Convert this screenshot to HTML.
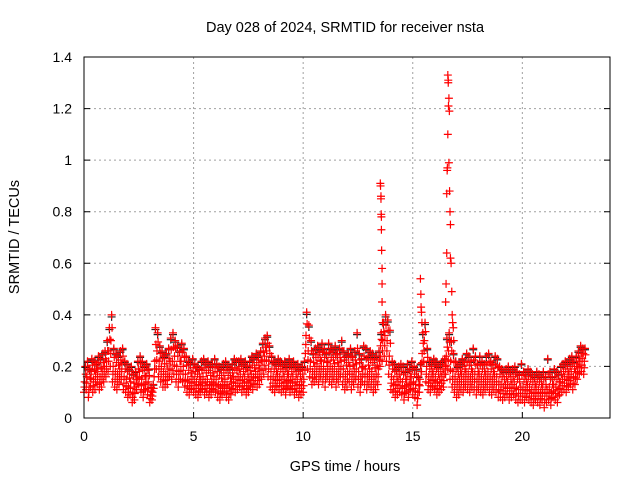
<!DOCTYPE html>
<html><head><meta charset="utf-8"><style>
html,body{margin:0;padding:0;background:#fff;}
svg{display:block;font-family:"Liberation Sans",sans-serif;}
</style></head><body>
<svg id="chart" width="640" height="480" viewBox="0 0 640 480" xmlns="http://www.w3.org/2000/svg">
<text x="345" y="32" font-size="14.5" text-anchor="middle">Day 028 of 2024, SRMTID for receiver nsta</text>
<text transform="translate(19,237) rotate(-90)" font-size="14.5" text-anchor="middle">SRMTID / TECUs</text>
<text x="345" y="471" font-size="14.5" text-anchor="middle">GPS time / hours</text>
<g id="grid"></g><g id="ticks"></g><g id="marks"></g>
<rect x="84" y="57" width="526" height="361" fill="none" stroke="#000" stroke-width="1"/>
</svg>
<script>
const xTicks=[0,5,10,15,20];
const yTicks=[0,0.2,0.4,0.6,0.8,1,1.2,1.4];
const yTickLabels=["0","0.2","0.4","0.6","0.8","1","1.2","1.4"];
const tStart=0, tStep=0.1;
const mid=[.14,.16,.12,.18,.15,.17,.19,.16,.18,.20,
.22,.26,.30,.20,.18,.17,.19,.21,.16,.15,
.12,.14,.10,.12,.16,.18,.15,.13,.16,.14,
.09,.10,.22,.26,.22,.20,.18,.17,.19,.22,
.22,.24,.20,.18,.22,.20,.17,.15,.14,.16,
.15,.14,.13,.15,.16,.14,.15,.13,.14,.16,
.15,.13,.12,.14,.15,.13,.12,.14,.16,.15,
.16,.17,.15,.16,.14,.15,.17,.16,.18,.17,
.19,.22,.24,.26,.22,.18,.16,.15,.17,.16,
.15,.16,.14,.17,.15,.16,.14,.15,.13,.14,
.15,.32,.26,.22,.18,.20,.21,.19,.22,.20,
.18,.22,.20,.19,.21,.18,.20,.22,.19,.17,
.18,.20,.17,.19,.21,.18,.16,.20,.19,.17,
.19,.18,.16,.17,.19,.28,.30,.32,.30,.24,
.16,.15,.13,.14,.15,.14,.12,.15,.13,.16,
.14,.13,.10,.15,.25,.30,.20,.16,.15,.17,
.16,.14,.15,.16,.17,.24,.26,.22,.18,.16,
.14,.15,.17,.16,.18,.17,.16,.18,.17,.15,
.17,.16,.15,.17,.18,.16,.15,.17,.16,.14,
.13,.12,.13,.14,.12,.13,.14,.12,.11,.12,
.12,.11,.13,.12,.11,.10,.12,.11,.10,.12,
.10,.11,.12,.10,.13,.12,.11,.14,.15,.16,
.15,.17,.18,.16,.18,.20,.22,.23,.22];
const hi=[.20,.22,.19,.23,.22,.21,.24,.23,.25,.26,
.30,.35,.40,.27,.25,.24,.26,.27,.22,.21,
.19,.20,.17,.18,.22,.24,.22,.20,.21,.19,
.12,.13,.35,.33,.28,.26,.24,.25,.27,.31,
.33,.30,.28,.26,.29,.27,.24,.22,.21,.23,
.21,.20,.19,.22,.23,.21,.22,.20,.21,.23,
.21,.20,.19,.21,.22,.20,.19,.21,.23,.22,
.22,.23,.21,.22,.20,.22,.24,.23,.25,.24,
.26,.29,.31,.32,.28,.24,.22,.21,.23,.22,
.21,.22,.20,.23,.21,.22,.20,.21,.19,.20,
.22,.41,.36,.30,.25,.27,.28,.26,.29,.27,
.25,.29,.27,.26,.28,.25,.27,.30,.26,.24,
.25,.27,.24,.26,.33,.25,.23,.28,.27,.24,
.26,.25,.23,.24,.26,.33,.37,.40,.38,.34,
.22,.21,.19,.20,.21,.20,.18,.21,.19,.22,
.20,.19,.16,.21,.33,.37,.27,.22,.21,.23,
.22,.20,.21,.22,.23,.31,.33,.30,.25,.22,
.20,.21,.23,.22,.25,.24,.22,.27,.24,.21,
.24,.22,.21,.24,.25,.22,.21,.24,.23,.20,
.19,.18,.19,.20,.18,.19,.20,.18,.17,.21,
.18,.17,.19,.18,.17,.16,.18,.17,.16,.18,
.16,.23,.18,.16,.19,.18,.17,.20,.21,.22,
.21,.23,.24,.22,.24,.26,.28,.27,.27];
const lo=[.10,.11,.08,.12,.10,.11,.13,.11,.12,.14,
.16,.18,.20,.14,.12,.11,.13,.15,.11,.10,
.08,.09,.06,.07,.11,.13,.10,.08,.11,.09,
.06,.07,.16,.19,.16,.14,.12,.12,.13,.16,
.15,.17,.14,.12,.15,.14,.12,.10,.09,.11,
.10,.09,.08,.10,.11,.09,.10,.08,.09,.11,
.10,.08,.07,.09,.10,.08,.07,.09,.11,.10,
.11,.12,.10,.11,.09,.10,.12,.11,.13,.12,
.13,.15,.17,.19,.16,.12,.11,.10,.12,.11,
.10,.11,.09,.12,.10,.11,.09,.10,.08,.09,
.10,.25,.19,.16,.13,.14,.15,.13,.16,.14,
.12,.16,.14,.13,.15,.12,.14,.16,.13,.11,
.12,.14,.11,.13,.15,.12,.10,.14,.13,.11,
.13,.12,.10,.11,.13,.20,.22,.24,.22,.17,
.11,.10,.08,.09,.10,.09,.07,.10,.08,.11,
.09,.08,.05,.10,.18,.22,.14,.11,.10,.12,
.11,.09,.10,.11,.12,.17,.19,.15,.12,.10,
.08,.09,.11,.10,.12,.11,.10,.12,.11,.09,
.11,.10,.09,.11,.12,.10,.09,.11,.10,.08,
.08,.07,.08,.09,.07,.08,.09,.07,.06,.07,
.07,.06,.08,.07,.06,.05,.07,.06,.05,.07,
.04,.06,.07,.05,.08,.07,.06,.09,.10,.11,
.10,.12,.13,.11,.13,.15,.17,.18,.17];
const spikeT=[13.52,13.53,13.55,13.55,13.56,13.57,13.57,13.58,13.6,13.6,13.6,13.62,
15.35,15.37,15.38,15.4,15.42,
16.5,16.52,16.55,16.55,16.57,16.58,16.6,16.6,16.62,16.62,16.63,16.65,16.65,16.67,16.68,16.7,16.72,16.72,16.75,16.78,16.8,16.82,16.85,16.87,16.9];
const spikeV=[0.91,0.90,0.86,0.85,0.79,0.78,0.73,0.65,0.58,0.52,0.45,0.37,
0.54,0.48,0.43,0.41,0.37,
0.45,0.52,0.64,0.87,0.96,0.97,1.33,1.10,1.31,1.30,1.21,1.24,0.99,1.19,0.88,0.80,0.75,0.62,0.60,0.49,0.40,0.37,0.35,0.30];
const NS="http://www.w3.org/2000/svg";
const X=t=>84+t*(526/24);
const Y=v=>418-v*(361/1.4);
function mk(tag,at,parent){const e=document.createElementNS(NS,tag);for(const k in at)e.setAttribute(k,at[k]);parent.appendChild(e);return e;}
const grid=document.getElementById('grid'),ticks=document.getElementById('ticks'),marks=document.getElementById('marks');
xTicks.forEach(t=>{
 if(t>0){const g=mk('line',{x1:X(t),x2:X(t),y1:57,y2:418,stroke:'#a0a0a0','stroke-dasharray':'2,3'},grid);
 
 }
 const tk=mk('line',{x1:X(t),x2:X(t),y1:418,y2:412,stroke:'#000'},ticks);
 
 
 const tx=mk('text',{x:X(t),y:441,'font-size':14,'text-anchor':'middle'},ticks);tx.textContent=t;
 
 
});
yTicks.forEach((v,i)=>{
 if(v>0&&v<1.4){const g=mk('line',{x1:84,x2:610,y1:Y(v),y2:Y(v),stroke:'#a0a0a0','stroke-dasharray':'2,3'},grid);
 
 }
 const tk=mk('path',{d:`M84 ${Y(v)}h6M610 ${Y(v)}h-6`,stroke:'#000'},ticks);
 
 
 const tx=mk('text',{x:72,y:Y(v)+5,'font-size':14,'text-anchor':'end'},ticks);tx.textContent=yTickLabels[i];
 
 
});
function plus(t,v,color){
 const p=mk('path',{d:`M${X(t)-4} ${Y(v)}h8M${X(t)} ${Y(v)-4}v8`,stroke:color,'stroke-width':1.2},marks);
 
 
}
hi.forEach((v,i)=>plus(tStart+i*tStep+0.06,v*0.98,'#222'));
mid.forEach((v,i)=>plus(tStart+i*tStep+0.03,v,'#ff0000'));
hi.forEach((v,i)=>plus(tStart+i*tStep+0.06,v,'#ff0000'));
lo.forEach((v,i)=>plus(tStart+i*tStep,v,'#ff0000'));
hi.forEach((v,i)=>plus(tStart+i*tStep+0.08,(v+mid[i])/2,'#ff0000'));
lo.forEach((v,i)=>plus(tStart+i*tStep+0.02,(v+mid[i])/2,'#ff0000'));
spikeT.forEach((t,i)=>plus(t,spikeV[i],'#ff0000'));
</script>
</body></html>
